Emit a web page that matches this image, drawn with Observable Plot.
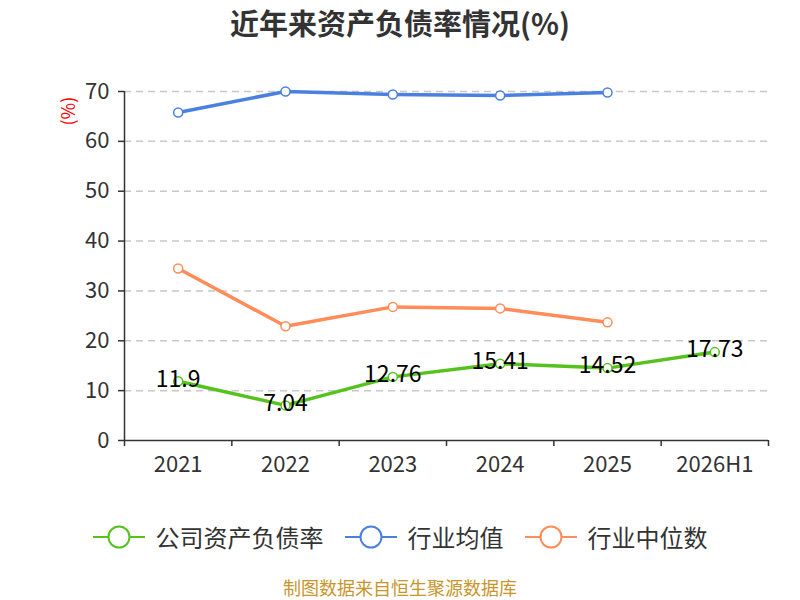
<!DOCTYPE html>
<html>
<head>
<meta charset="utf-8">
<script src="https://cdn.jsdelivr.net/npm/d3@7"></script>
<script src="https://cdn.jsdelivr.net/npm/@observablehq/plot@0.6"></script>
<style>
  body { margin: 0; background: #fff; font-family: "Noto Sans CJK SC", "Noto Sans", sans-serif; }
  #wrap { position: relative; width: 800px; height: 600px; overflow: hidden; }
  #title { position: absolute; top: 0px; left: 0; width: 800px; text-align: center; font-size: 29px; font-weight: bold; color: #333; line-height: 44px; }
  #chart { position: absolute; top: 50px; left: 0; }
  #legend { position: absolute; top: 520px; left: 0; width: 800px; display: flex; justify-content: center; gap: 21px; align-items: center; }
  .item { display: flex; align-items: center; font-size: 24px; color: #333; line-height: 34px; }
  .item svg { margin-right: 11px; }
  #caption { position: absolute; top: 577px; left: 0; width: 800px; text-align: center; font-size: 18px; color: #c8952b; line-height: 20px; }
</style>
</head>
<body>
<div id="wrap">
  <div id="title">近年来资产负债率情况(%)</div>
  <div id="chart"></div>
  <div id="legend"></div>
  <div id="caption">制图数据来自恒生聚源数据库</div>
</div>
<script>
const years = ["2021", "2022", "2023", "2024", "2025", "2026H1"];
const company = [11.9, 7.04, 12.76, 15.41, 14.52, 17.73];
const industryMean = [65.8, 70.0, 69.4, 69.2, 69.8];
const industryMedian = [34.5, 22.9, 26.8, 26.5, 23.7];
const yTicks = [0, 10, 20, 30, 40, 50, 60, 70];
const seriesNames = ["公司资产负债率", "行业均值", "行业中位数"];
const colors = ["#56c21d", "#4b80e0", "#ff8c59"];

const toRows = (arr) => arr.map((v, i) => ({x: i + 0.5, v}));
const comp = toRows(company);
const mean = toRows(industryMean);
const med = toRows(industryMedian);

const font = "Noto Sans CJK SC, Noto Sans, sans-serif";

const chart = Plot.plot({
  width: 800,
  height: 430,
  marginTop: 41,
  marginBottom: 40,
  marginLeft: 124,
  marginRight: 32,
  x: {type: "linear", domain: [0, years.length], label: null},
  y: {domain: [0, 70], label: null},
  style: {fontFamily: font, fontSize: "22px", color: "#333", background: "#fff"},
  marks: [
    Plot.gridY(yTicks.filter(d => d > 0), {stroke: "#c8c8c8", strokeOpacity: 1, strokeWidth: 1.5, strokeDasharray: "7,5"}),
    Plot.axisY(yTicks, {label: null, tickSize: 6, tickPadding: 9, fontSize: 22, fill: "#333", stroke: "#333", strokeWidth: 1.5}),
    Plot.axisX(d3.range(years.length + 1), {label: null, tickSize: 6, tickFormat: () => "", stroke: "#333", strokeWidth: 1.5}),
    Plot.axisX(d3.range(years.length).map(i => i + 0.5), {label: null, tickSize: 0, tickPadding: 16, tickFormat: d => years[Math.floor(d)], fontSize: 22, fill: "#333"}),
    Plot.ruleX([0], {stroke: "#333", strokeWidth: 1.5}),
    Plot.ruleY([0], {stroke: "#333", strokeWidth: 1.5}),
    Plot.text(["(%)"], {frameAnchor: "top-left", dx: -62, dy: 34, rotate: -90, fill: "red", fontSize: 18}),
    Plot.line(mean, {x: "x", y: "v", stroke: colors[1], strokeWidth: 3.5}),
    Plot.line(med, {x: "x", y: "v", stroke: colors[2], strokeWidth: 3.5}),
    Plot.line(comp, {x: "x", y: "v", stroke: colors[0], strokeWidth: 3.5}),
    Plot.dot(mean, {x: "x", y: "v", r: 4.5, fill: "#fff", stroke: colors[1], strokeWidth: 1.5}),
    Plot.dot(med, {x: "x", y: "v", r: 4.5, fill: "#fff", stroke: colors[2], strokeWidth: 1.5}),
    Plot.dot(comp, {x: "x", y: "v", r: 4.5, fill: "#fff", stroke: colors[0], strokeWidth: 1.5}),
    Plot.text(comp, {x: "x", y: "v", text: d => String(d.v), fill: "#000", fontSize: 23, dy: -2})
  ]
});
document.getElementById("chart").appendChild(chart);

const legend = document.getElementById("legend");
seriesNames.forEach((name, i) => {
  const item = document.createElement("div");
  item.className = "item";
  item.innerHTML = `<svg width="52" height="30"><line x1="0" y1="15" x2="52" y2="15" stroke="${colors[i]}" stroke-width="2"/><circle cx="26" cy="15" r="10.5" fill="#fff" stroke="${colors[i]}" stroke-width="2"/></svg><span>${name}</span>`;
  legend.appendChild(item);
});
</script>
</body>
</html>
